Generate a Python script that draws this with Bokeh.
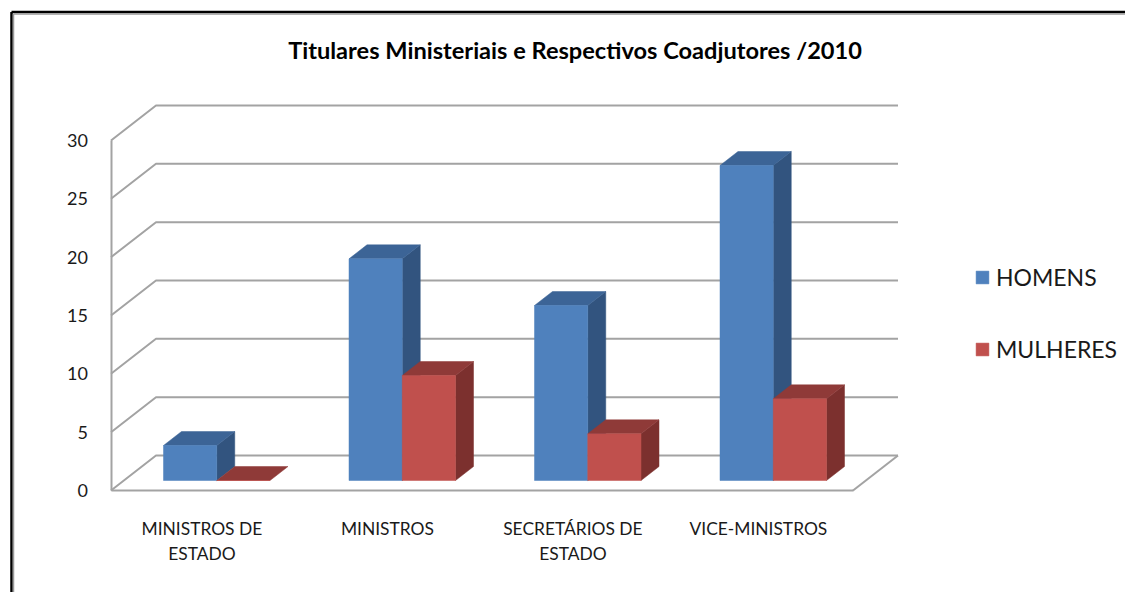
from bokeh.embed import file_html
from bokeh.resources import INLINE
from bokeh.plotting import figure
from bokeh.models import LinearAxis, FixedTicker, Range1d, Legend, LegendItem
from bokeh.core.properties import value

TITLE = "Titulares Ministeriais e Respectivos Coadjutores /2010"
categories = ["MINISTROS DE\nESTADO", "MINISTROS", "SECRETÁRIOS DE\nESTADO", "VICE-MINISTROS"]
homens = [3, 19, 15, 27]
mulheres = [0, 9, 4, 7]
y_ticks = [0, 5, 10, 15, 20, 25, 30]

FONT = "Lato"
W, H = 1125, 592
PX_X = 185.5            # pixels per category
PX_Y = 350 / 30         # pixels per unit of value
ORIGIN_X, ORIGIN_Y = 110.5, 490   # where (0, 0) sits inside the figure

def dx(px):
    return px / PX_X

def dy(px):
    return px / PX_Y

def X(page_px):
    return (page_px - ORIGIN_X) / PX_X

def Y(page_px):
    return (ORIGIN_Y - page_px) / PX_Y

p = figure(width=W, height=H, output_backend="svg", toolbar_location=None,
           x_range=Range1d(X(0), X(W)), y_range=Range1d(Y(H), Y(0)),
           x_axis_type=None, y_axis_type=None, min_border=0,
           outline_line_color=None, background_fill_color="white",
           border_fill_color="white")
p.grid.visible = False

# Outer picture frame
p.line([X(11), X(11)], [Y(592), Y(11.5)], line_color="black", line_width=2.5)
p.line([X(11), X(1125)], [Y(11.5), Y(11.5)], line_color="black", line_width=2.5)
p.line([X(13), X(13)], [Y(592), Y(13.5)], line_color="#9a9a9a", line_width=1.5)
p.line([X(13), X(1125)], [Y(13.5), Y(13.5)], line_color="#9a9a9a", line_width=1.5)

# 3D walls
WALL_DX, WALL_DY = dx(45), dy(35)
n = len(categories)
GRID = "#a3a3a3"
p.multi_line([[0, WALL_DX, n + WALL_DX] for _ in y_ticks],
             [[t, t + WALL_DY, t + WALL_DY] for t in y_ticks],
             line_color=GRID, line_width=2)
p.line([n, n + WALL_DX], [0, WALL_DY], line_color=GRID, line_width=2)

# 3D bars
BAR_W = 53.25 / PX_X
DEPTH_X, DEPTH_Y = dx(18), dy(14)
BASE_Y = dy(10)         # bars stand in the middle of the floor
BASE_X = dx(52.5)

def draw_bar(left, val, front, side, top):
    b, t = BASE_Y, BASE_Y + val
    r = left + BAR_W
    if val > 0:
        p.patch([r, r + DEPTH_X, r + DEPTH_X, r],
                [b, b + DEPTH_Y, t + DEPTH_Y, t], fill_color=side, line_color=side, line_width=0.5)
    p.patch([left, left + DEPTH_X, r + DEPTH_X, r],
            [t, t + DEPTH_Y, t + DEPTH_Y, t], fill_color=top, line_color=top, line_width=0.5)
    return p.quad(left=[left], right=[r], bottom=[b], top=[t],
                  fill_color=front, line_color=front, line_width=0.5)

r_h = r_m = None
for i in range(n):
    left = i + BASE_X
    r_h = draw_bar(left, homens[i], "#4f81bd", "#32547f", "#3c6496")
    r_m = draw_bar(left + BAR_W, mulheres[i], "#c0504d", "#7c302e", "#8f3a38")

# Axes
y_axis = LinearAxis(fixed_location=0, ticker=FixedTicker(ticks=y_ticks), bounds=(0, 30),
                    axis_line_color=GRID, axis_line_width=2,
                    major_tick_line_color=None, minor_tick_line_color=None,
                    major_tick_out=0, minor_tick_out=0, major_tick_in=0, minor_tick_in=0,
                    major_label_standoff=23,
                    major_label_text_font=FONT, major_label_text_font_size="18px",
                    major_label_text_color="#1a1a1a")
p.add_layout(y_axis, "left")

centres = [i + 0.49 for i in range(n)]
x_axis = LinearAxis(fixed_location=0, ticker=FixedTicker(ticks=centres), bounds=(0, n),
                    major_label_overrides=dict(zip(centres, categories)),
                    axis_line_color=GRID, axis_line_width=2,
                    major_tick_line_color=None, minor_tick_line_color=None,
                    major_tick_out=0, minor_tick_out=0, major_tick_in=0, minor_tick_in=0,
                    major_label_standoff=27,
                    major_label_text_font=FONT, major_label_text_font_size="17.4px",
                    major_label_text_color="#1a1a1a")
p.add_layout(x_axis, "below")

# Title
p.text([X(574.5)], [Y(49.5)], text=[TITLE], text_font=value(FONT), text_font_style="bold",
       text_font_size="23.6px", text_align="center", text_baseline="middle", text_color="black")

# Legend
legend = Legend(items=[LegendItem(label="HOMENS", renderers=[r_h]),
                       LegendItem(label="MULHERES", renderers=[r_m])],
                location=(974, H - 349 - 14),
                orientation="vertical", glyph_width=16, glyph_height=16, spacing=44,
                padding=0, margin=0, label_standoff=6, label_height=20,
                border_line_color=None, background_fill_alpha=0,
                label_text_font=FONT, label_text_font_size="23px", label_text_color="#1a1a1a")
p.add_layout(legend, "center")

open("out.html", "w").write(file_html(p, INLINE))
